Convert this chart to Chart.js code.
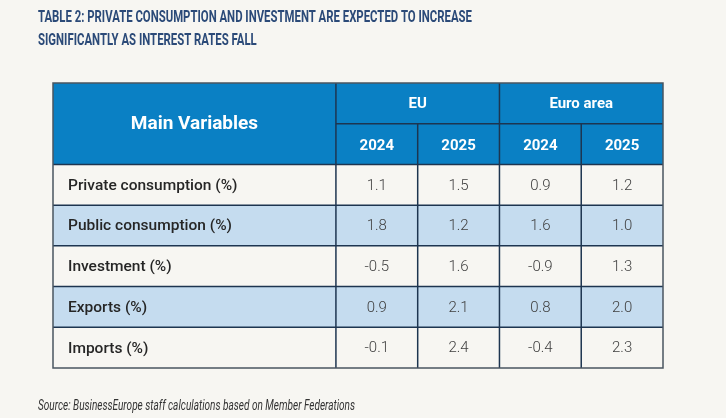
<!DOCTYPE html>
<html>
<head>
<meta charset="utf-8">
<script src="https://cdn.jsdelivr.net/npm/chart.js@4.4.1/dist/chart.umd.min.js"></script>
<style>
  html, body { margin: 0; padding: 0; background: #f7f6f2; }
  #wrap { width: 726px; height: 418px; }
</style>
</head>
<body>
<div id="wrap"><canvas id="table2" width="726" height="418"></canvas></div>
<script>
var titleLines = ['TABLE 2: PRIVATE CONSUMPTION AND INVESTMENT ARE EXPECTED TO INCREASE',
                  'SIGNIFICANTLY AS INTEREST RATES FALL'];
var sourceNote = 'Source: BusinessEurope staff calculations based on Member Federations';
var cornerLabel = 'Main Variables';
var regions = ['EU', 'Euro area'];
var years = ['2024', '2025'];
var variables = ['Private consumption (%)', 'Public consumption (%)', 'Investment (%)',
                 'Exports (%)', 'Imports (%)'];
var eu2024 = [1.1, 1.8, -0.5, 0.9, -0.1];
var eu2025 = [1.5, 1.2, 1.6, 2.1, 2.4];
var ea2024 = [0.9, 1.6, -0.9, 0.8, -0.4];
var ea2025 = [1.2, 1.0, 1.3, 2.0, 2.3];

var columns = [eu2024, eu2025, ea2024, ea2025];
var labelSpan = 3.46; // width of first column, in data-column units
var nCols = columns.length;
var nRows = 2 + variables.length;

var blue = '#0a80c4';
var lightBlue = '#c5dcef';
var paper = '#f7f6f2';
var darkLine = '#1d3550';

// draw text squeezed horizontally to a target width (the original uses a condensed face)
function squeezeText(ctx, txt, x, y, scaleX) {
    ctx.save();
    ctx.translate(x, y);
    ctx.scale(scaleX, 1);
    ctx.fillText(txt, 0, 0);
    ctx.restore();
}

var tablePlugin = {
    id: 'tablePlugin',
    beforeDatasetsDraw: function(chart) {
        var ctx = chart.ctx;
        var xs = chart.scales.x, ys = chart.scales.y;
        var X = function(v) { return xs.getPixelForValue(v); };
        var Y = function(v) { return ys.getPixelForValue(v); };
        var colEdge = function(i) { return i === 0 ? 0 : labelSpan + i - 1; };
        var left = X(0), right = X(labelSpan + nCols);

        // header background
        ctx.fillStyle = blue;
        ctx.fillRect(left, Y(0), right - left, Y(2) - Y(0));
        // body rows
        for (var r = 0; r < variables.length; r++) {
            ctx.fillStyle = r % 2 === 1 ? lightBlue : paper;
            ctx.fillRect(left, Y(r + 2), right - left, Y(r + 3) - Y(r + 2));
        }

        // grid lines
        ctx.strokeStyle = darkLine;
        ctx.lineWidth = 1.5;
        function line(x1, y1, x2, y2) {
            ctx.beginPath();
            ctx.moveTo(x1, y1);
            ctx.lineTo(x2, y2);
            ctx.stroke();
        }
        line(X(colEdge(1)), Y(1), right, Y(1));
        for (var h = 2; h < nRows; h++) line(left, Y(h), right, Y(h));
        for (var c = 1; c <= nCols; c++) {
            var top = (c === 2 || c === 4) ? Y(1) : Y(0);
            line(X(colEdge(c)), top, X(colEdge(c)), Y(nRows));
        }
        ctx.strokeStyle = '#4a5560';
        ctx.strokeRect(left, Y(0), right - left, Y(nRows) - Y(0));

        // header text
        ctx.fillStyle = '#ffffff';
        ctx.textAlign = 'center';
        ctx.textBaseline = 'middle';
        ctx.font = 'bold 19px Roboto';
        ctx.fillText(cornerLabel, (X(0) + X(labelSpan)) / 2, Y(1) + 1);
        ctx.font = 'bold 15px Roboto';
        for (var g = 0; g < regions.length; g++) {
            var gx = (X(colEdge(1 + g * 2)) + X(colEdge(3 + g * 2))) / 2;
            ctx.fillText(regions[g], gx, Y(0.5) + 1);
            for (var k = 0; k < years.length; k++) {
                var cx = (X(colEdge(1 + g * 2 + k)) + X(colEdge(2 + g * 2 + k))) / 2;
                ctx.fillText(years[k], cx, Y(1.5) + 2);
            }
        }

        // body text
        for (var i = 0; i < variables.length; i++) {
            var cy = Y(i + 2.5) + 1;
            ctx.fillStyle = '#262626';
            ctx.textAlign = 'left';
            ctx.font = '500 15.5px Roboto';
            ctx.fillText(variables[i], left + 15, cy);
            ctx.fillStyle = '#404040';
            ctx.textAlign = 'center';
            ctx.font = '300 15px Roboto';
            for (var j = 0; j < nCols; j++) {
                var vx = (X(colEdge(j + 1)) + X(colEdge(j + 2))) / 2;
                ctx.fillText(columns[j][i].toFixed(1), vx, cy);
            }
        }
    },
    afterDraw: function(chart) {
        var ctx = chart.ctx;
        ctx.save();
        ctx.textAlign = 'left';
        ctx.textBaseline = 'alphabetic';
        ctx.fillStyle = '#2b4a78';
        ctx.font = 'bold 16px Roboto';
        var sx = 434 / ctx.measureText(titleLines[0]).width;
        squeezeText(ctx, titleLines[0], 38, 22, sx);
        squeezeText(ctx, titleLines[1], 38, 45, sx);
        ctx.fillStyle = '#333333';
        ctx.font = 'italic 14px Roboto';
        var sx2 = 317 / ctx.measureText(sourceNote).width;
        squeezeText(ctx, sourceNote, 38, 410, sx2);
        ctx.restore();
    }
};

var ctx = document.getElementById('table2');
var table = new Chart(ctx, {
    type: 'scatter',
    data: { datasets: [{ data: [] }] },
    options: {
        responsive: false,
        animation: false,
        devicePixelRatio: 1,
        layout: { padding: { left: 53, right: 63, top: 83, bottom: 50 } },
        plugins: { legend: { display: false }, tooltip: { enabled: false } },
        scales: {
            x: { type: 'linear', min: 0, max: labelSpan + nCols, display: false },
            y: { type: 'linear', min: 0, max: nRows, reverse: true, display: false }
        }
    },
    plugins: [tablePlugin]
});
</script>
</body>
</html>
